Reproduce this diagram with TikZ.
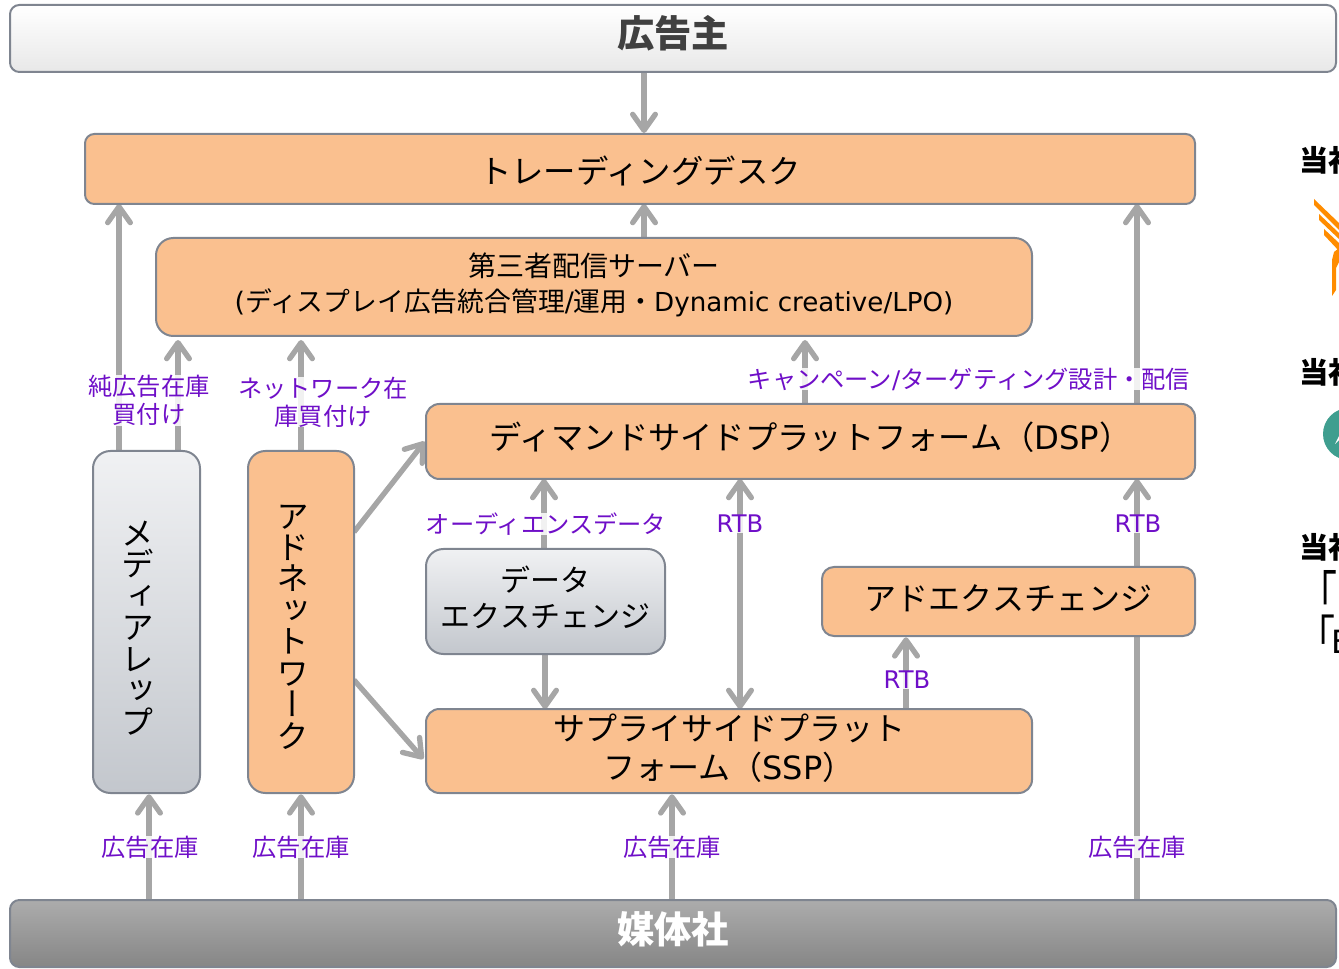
\documentclass[tikz,border=0pt]{standalone}
\usepackage{fontspec}
\usepackage{graphicx}
\usetikzlibrary{arrows.meta,backgrounds}
\setmainfont{Noto Sans CJK JP}
\newfontfamily\vjp[RawFeature=+vert]{Noto Sans CJK JP}
\newfontfamily\latf{DejaVu Sans}
\newcommand{\lat}[1]{{\latf #1}}
\newcommand{\fs}[2]{\fontsize{#1}{#2}\selectfont}
\newcommand{\rb}[2]{\raisebox{#1}[\height][\depth]{#2}}
\definecolor{orgfill}{HTML}{FAC08F}
\definecolor{edge}{HTML}{7F8590}
\definecolor{arrowgray}{HTML}{A6A6A6}
\definecolor{lbl}{HTML}{6F0FC8}
\definecolor{gtop}{HTML}{F0F1F3}
\definecolor{gbot}{HTML}{C3C7CD}
\definecolor{logoorange}{HTML}{FF8C00}
\definecolor{logoteal}{HTML}{3F9E8F}
\tikzset{
  x=0.75pt,y=-0.75pt,
  wh/.style 2 args={minimum width=#1*0.75pt,minimum height=#2*0.75pt},
  box/.style={draw=edge,line width=1.5pt,inner sep=0pt,outer sep=0pt,align=center,text=black},
  orgbox/.style={box,fill=orgfill},
  graybox/.style={box,top color=gtop,bottom color=gbot},
  arr/.style={draw=arrowgray,line width=4pt,-{Straight Barb[length=12pt,width=17pt,round]}},
  darr/.style={draw=arrowgray,line width=4pt,{Straight Barb[length=12pt,width=17pt,round]}-{Straight Barb[length=12pt,width=17pt,round]}},
  lab/.style={text=lbl,font=\fs{18.2}{21},inner sep=0pt,fill=white,fill opacity=.85,text opacity=1,align=center},
  boxtext/.style={inner sep=0pt,align=center},
}
\begin{document}
\begin{tikzpicture}
\useasboundingbox (0,0) rectangle (1339,969);
\begin{scope}
\clip (0,0) rectangle (1339,969);
\node[anchor=west,font=\fs{22}{26}\bfseries,inner sep=0pt] (t1) at (1299,160) {当社};
\node[anchor=west,font=\fs{22}{26}\bfseries,inner sep=0pt] (t2) at (1299,372) {当社};
\node[anchor=west,font=\fs{22}{26}\bfseries,inner sep=0pt] (t3) at (1299,547) {当社};
\node[anchor=west,font=\fs{19}{24},inner sep=0pt] (t4) at (1299,593) {\scalebox{1.5}[2.1]{「}};
\node[anchor=west,font=\fs{19}{24},inner sep=0pt] (t5) at (1297,634) {\scalebox{1.5}[1.8]{「}\kern-3pt\fontsize{24}{28}\selectfont\lat{E}};
% orange wing logo
\fill[logoorange] (1314,199) -- (1339,223) -- (1339,230) -- (1314,205) -- cycle;
\fill[logoorange] (1319,214) -- (1339,233) -- (1339,239) -- (1319,220) -- cycle;
\fill[logoorange] (1324,229) -- (1339,243) -- (1339,251) -- (1324,235) -- cycle;
\fill[logoorange] (1339,248) -- (1334,252) -- (1332,260) -- (1332,296) -- (1336,290) -- (1336,268) -- (1339,262) -- cycle;
% teal logo
\fill[logoteal] (1349,434) circle (26);
\fill[white] (1335,444) -- (1339,436) -- (1339,440) -- cycle;
\end{scope}

\node[box,wh={1326}{67},rounded corners=7pt,top color=white,bottom color=gray!18!white] (adv) at (673,38.5) {\rb{3.7pt}{\fs{28}{32}\bfseries\color{black!75}広告主}};
\node[box,wh={1326}{67},rounded corners=7pt,top color=gray!65!white,bottom color=gray!95!white] (pub) at (673,933.5) {\rb{3pt}{\fs{28}{32}\bfseries\color{white}媒体社}};
\node[orgbox,wh={1110}{70},rounded corners=7pt] (td) at (640,169) {\rb{-1.5pt}{\fs{24.3}{28}トレーディングデスク}};
\node[orgbox,wh={876}{98},rounded corners=13pt] (third) at (594,287) {};
\node[boxtext,font=\fs{21}{26.25}] (thirdt) at (594,284.5) {第三者配信サーバー\\\fontsize{20.1}{26.25}\selectfont\lat{(}ディスプレイ広告統合管理\lat{/}運用・\fontsize{19.6}{26.25}\selectfont\lat{Dynamic creative/LPO)}};
\node[graybox,wh={107}{342},rounded corners=13pt] (media) at (146.5,622) {};
\node[boxtext,font=\vjp\fs{24.5}{23.6}] (mediat) at (138,628) {メ\\デ\\ィ\\ア\\レ\\ッ\\プ};
\node[orgbox,wh={106}{342},rounded corners=13pt] (adnet) at (301,622) {};
\node[boxtext,font=\vjp\fs{24.5}{23.6}] (adnett) at (293,627) {ア\\ド\\ネ\\ッ\\ト\\ワ\\ー\\ク};
\node[orgbox,wh={769}{75},rounded corners=10pt] (dsp) at (810.5,441.5) {\rb{3pt}{\fs{24.2}{28}ディマンドサイドプラットフォーム（\lat{DSP}）}};
\node[graybox,wh={239}{105},rounded corners=13pt] (dex) at (545.5,601.5) {};
\node[boxtext,font=\fs{22.5}{26.5}] (dext) at (545.5,597.5) {データ\\エクスチェンジ};
\node[orgbox,wh={373}{69},rounded corners=9pt] (adex) at (1008.5,601.5) {\rb{2.2pt}{\fs{24}{28}アドエクスチェンジ}};
\node[orgbox,wh={606}{84},rounded corners=10pt] (ssp) at (729,751) {};
\node[boxtext,font=\fs{24}{29.25}] (sspt) at (729,748) {サプライサイドプラット\\フォーム（\lat{SSP}）};

\begin{scope}[on background layer]
\draw[arr] (adv.south -| 644,0) -- (644,133);
\draw[arr] (third.north -| 644,0) -- (td.south -| 644,0);
\draw[arr] (media.north -| 119,0) -- (td.south -| 119,0);
\draw[arr,shorten >=3pt] (media.north -| 178,0) -- (third.south -| 178,0);
\draw[arr,shorten >=3pt] (adnet.north -| 301,0) -- (third.south -| 301,0);
\draw[arr,shorten >=3pt] (dsp.north -| 805,0) -- (third.south -| 805,0);
\draw[arr] (dsp.north -| 1137,0) -- (td.south -| 1137,0);
\draw[arr] (pub.north -| 1137,0) -- (dsp.south -| 1137,0);
\draw[arr] (dex.north -| 544,0) -- (dsp.south -| 544,0);
\draw[arr] (dex.south -| 545,0) -- (ssp.north -| 545,0);
\draw[darr] (dsp.south -| 740,0) -- (ssp.north -| 740,0);
\draw[arr,shorten >=1pt] (ssp.north -| 906,0) -- (adex.south -| 906,0);
\draw[arr,shorten >=1pt] (pub.north -| 149,0) -- (media.south -| 149,0);
\draw[arr,shorten >=1pt] (pub.north -| 301,0) -- (adnet.south -| 301,0);
\draw[arr,shorten >=1pt] (pub.north -| 672,0) -- (ssp.south -| 672,0);
\draw[arr,shorten >=1.5pt] (adnet.east |- 0,532) -- (dsp.west |- 0,440);
\draw[arr,shorten >=3pt] (adnet.east |- 0,680) -- (ssp.west |- 0,762);
\end{scope}

\node[lab] (l1) at (149,400.5) {純広告在庫\\買付け};
\node[lab] (l2) at (323,402) {ネットワーク在\\庫買付け};
\node[lab] (l3) at (969,379) {キャンペーン\lat{/}ターゲティング設計・配信};
\node[lab] (l4) at (546,524) {オーディエンスデータ};
\node[lab] (l5) at (740,524) {\lat{RTB}};
\node[lab] (l6) at (1138,524) {\lat{RTB}};
\node[lab] (l7) at (907,680) {\lat{RTB}};
\node[lab] (l8) at (150,847) {広告在庫};
\node[lab] (l9) at (301,847) {広告在庫};
\node[lab] (l10) at (672,847) {広告在庫};
\node[lab] (l11) at (1137,847) {広告在庫};
\end{tikzpicture}
\end{document}
